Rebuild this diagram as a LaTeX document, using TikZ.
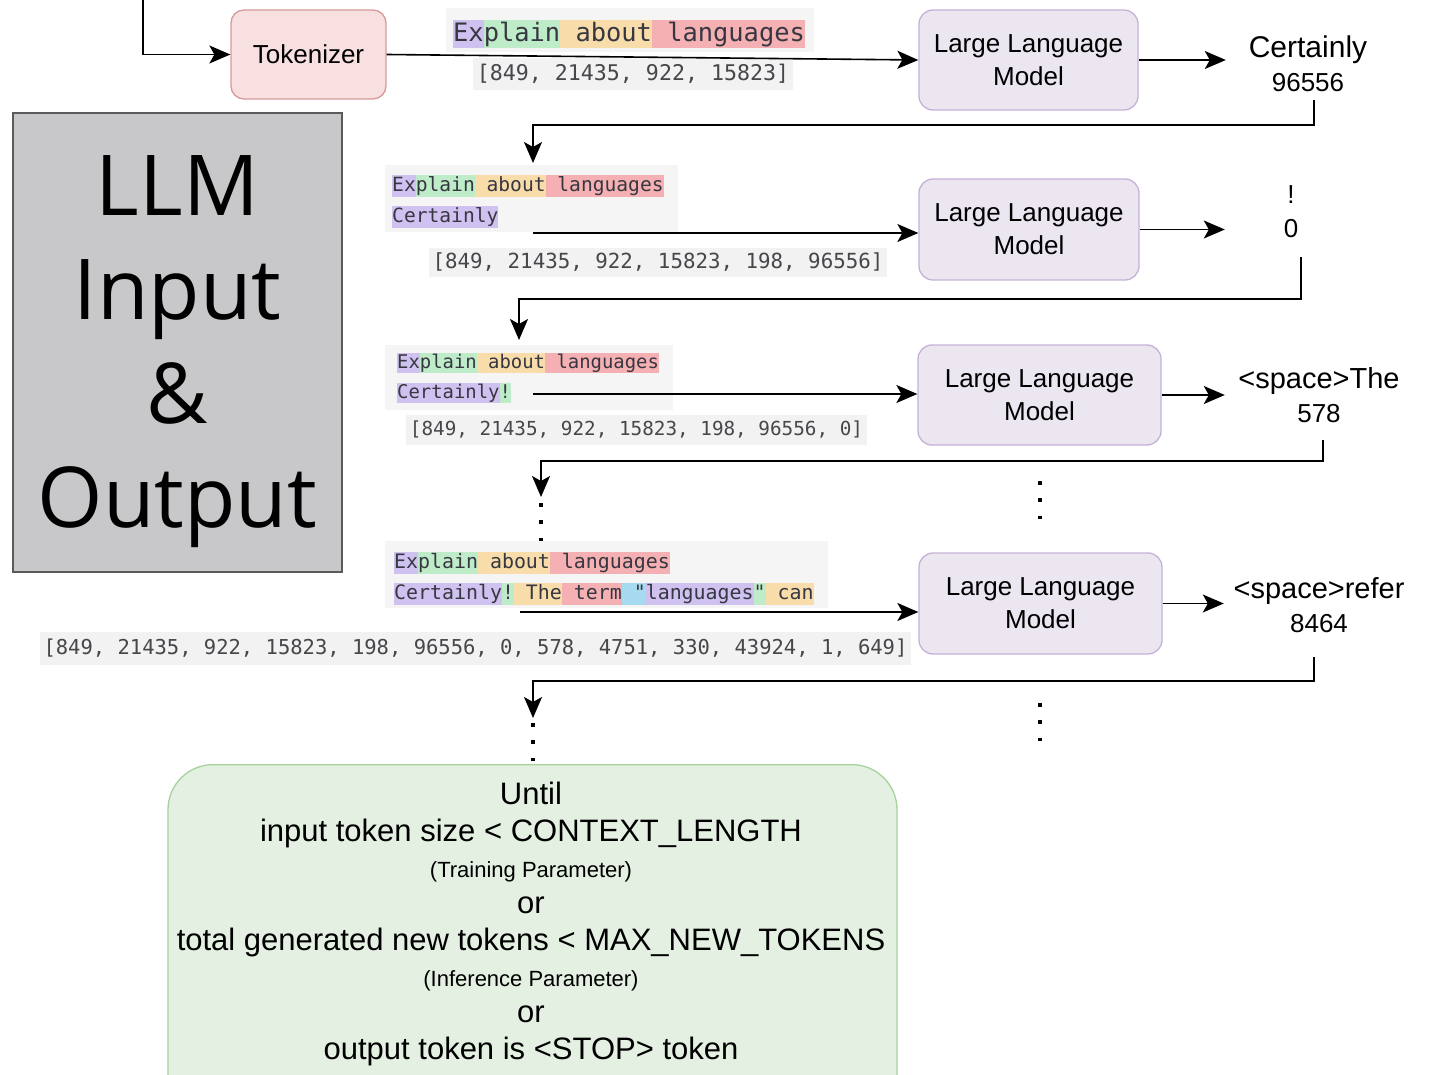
\documentclass[tikz,border=0pt]{standalone}
\usepackage{fontspec}
\setmainfont{Liberation Sans}
\setmonofont{DejaVu Sans Mono}
\newfontfamily\titlefont{Open Sans}
\usetikzlibrary{arrows.meta}
\definecolor{tkpurple}{RGB}{208,194,240}
\definecolor{tkgreen}{RGB}{190,236,200}
\definecolor{tkorange}{RGB}{248,220,170}
\definecolor{tkred}{RGB}{244,176,178}
\definecolor{tkblue}{RGB}{165,218,240}
\definecolor{tkbg}{RGB}{245,245,245}
\definecolor{numbg}{RGB}{242,242,242}
\definecolor{tktext}{RGB}{55,55,65}
\definecolor{numtext}{RGB}{70,70,75}
\definecolor{tokfill}{RGB}{248,224,224}
\definecolor{tokdraw}{RGB}{214,154,154}
\definecolor{llmfill}{RGB}{236,230,240}
\definecolor{llmdraw}{RGB}{196,178,214}
\definecolor{stopfill}{RGB}{228,240,226}
\definecolor{stopdraw}{RGB}{166,210,156}
\definecolor{titlefill}{RGB}{200,199,201}
\definecolor{titledraw}{RGB}{90,90,90}
\newcommand\tk[2]{{\setlength{\fboxsep}{0pt}\colorbox{#1}{\vrule height 0.84em depth 0.26em width 0pt\relax #2}}}
\tikzset{
  conn/.style={line width=1.6pt, draw=black},
  arr/.style={conn, -{Stealth[length=21pt,width=18pt,inset=5pt]}},
  dotline/.style={line width=3.6pt, dash pattern=on 3.6pt off 13.8pt},
  tokbox/.style={draw=tokdraw, fill=tokfill, line width=1.3pt, rounded corners=13pt, font=\fontsize{26}{31}\selectfont},
  llm/.style={draw=llmdraw, fill=llmfill, line width=1.3pt, rounded corners=14pt, align=center, font=\fontsize{26}{33}\selectfont},
  outlbl/.style={inner sep=0pt, align=center, font=\fontsize{26}{34}\selectfont},
  toks/.style={inner sep=0pt, anchor=west, align=left, text=tktext},
  nums/.style={fill=numbg, inner xsep=4pt, inner ysep=0pt, text=numtext}
}
\begin{document}
\begin{tikzpicture}[x=1pt,y=-1pt]
\useasboundingbox (0,0) rectangle (1437,1075);

% title
\node[draw=titledraw, fill=titlefill, line width=1.2pt, minimum width=329pt, minimum height=459pt] (title) at (177.5,342.5) {};
\node[align=center, inner sep=0pt, font=\titlefont\fontsize{84}{104}\selectfont] (titletext) at (177.5,352) {LLM\\Input\\\&\\Output};

% row 1
\coordinate (in) at (143,0);
\node[tokbox, minimum width=155pt, minimum height=89pt] (tok) at (308.5,54.5) {Tokenizer};
\fill[tkbg] (446,8) rectangle (814,52);
\node[toks, font=\ttfamily\fontsize{25.4}{30}\selectfont] (t1) at (453,34) {\tk{tkpurple}{Ex}\tk{tkgreen}{plain}\tk{tkorange}{\ about}\tk{tkred}{\ languages}};
\node[nums, minimum height=32pt, font=\ttfamily\fontsize{21.6}{26}\selectfont] (n1) at (633,74) {[849, 21435, 922, 15823]};
\node[llm, minimum width=219pt, minimum height=100pt] (m1) at (1028.5,60) {Large Language\\Model};
\node[outlbl, minimum width=164pt, minimum height=72pt] (o1) at (1308,64) {{\fontsize{30}{34}\selectfont Certainly}\\96556};
\draw[arr] (in) |- (tok.west);
\draw[arr] (tok.east) -- (m1.west);
\draw[arr] (m1.east) -- (m1.east -| o1.west);
\coordinate (k1) at (533,125);
\draw[arr] ([xshift=6pt]o1.south) |- (k1) -- ++(0,38);

% row 2
\fill[tkbg] (385,165) rectangle (678,232);
\node[toks, font=\ttfamily\fontsize{19.6}{31}\selectfont] (t2) at (392,201.5) {\tk{tkpurple}{Ex}\tk{tkgreen}{plain}\tk{tkorange}{\ about}\tk{tkred}{\ languages}\\\tk{tkpurple}{Certainly}};
\coordinate (a2) at (533,233);
\node[nums, minimum height=29pt, font=\ttfamily\fontsize{20.8}{25}\selectfont] (n2) at (658,262.5) {[849, 21435, 922, 15823, 198, 96556]};
\node[llm, minimum width=220pt, minimum height=101pt] (m2) at (1029,229.5) {Large Language\\Model};
\node[outlbl, minimum width=132pt, minimum height=90pt] (o2) at (1291,212) {!\\0};
\draw[arr] (a2) -- (a2 -| m2.west);
\draw[arr] (m2.east) -- (m2.east -| o2.west);
\coordinate (k2) at (519,299);
\draw[arr] ([xshift=10pt]o2.south) |- (k2) -- ++(0,41);

% row 3
\fill[tkbg] (385,345) rectangle (673,410);
\node[toks, font=\ttfamily\fontsize{18.9}{30}\selectfont] (t3) at (397,378) {\tk{tkpurple}{Ex}\tk{tkgreen}{plain}\tk{tkorange}{\ about}\tk{tkred}{\ languages}\\\tk{tkpurple}{Certainly}\tk{tkgreen}{!}};
\coordinate (a3) at (533,394);
\node[nums, minimum height=30pt, font=\ttfamily\fontsize{19.3}{24}\selectfont] (n3) at (636.5,430) {[849, 21435, 922, 15823, 198, 96556, 0]};
\node[llm, minimum width=243pt, minimum height=100pt] (m3) at (1039.5,395) {Large Language\\Model};
\node[outlbl, minimum width=188pt, minimum height=89pt] (o3) at (1319,395.5) {{\fontsize{29}{33}\selectfont <space>The}\\578};
\draw[arr] (a3) -- (a3 -| m3.west);
\draw[arr] (m3.east) -- (m3.east -| o3.west);
\coordinate (k3) at (541,461);
\draw[arr] ([xshift=4pt]o3.south) |- (k3) -- ++(0,36);
\draw[dotline] (541,503) -- (541,541);
\draw[dotline] (1040,481) -- (1040,520);

% row 4
\fill[tkbg] (385,541) rectangle (828,608);
\node[toks, font=\ttfamily\fontsize{19.9}{31}\selectfont] (t4) at (394,578.5) {\tk{tkpurple}{Ex}\tk{tkgreen}{plain}\tk{tkorange}{\ about}\tk{tkred}{\ languages}\\\tk{tkpurple}{Certainly}\tk{tkgreen}{!}\tk{tkorange}{\ The}\tk{tkred}{\ term}\tk{tkblue}{\ "}\tk{tkpurple}{languages}\tk{tkgreen}{"}\tk{tkorange}{\ can}};
\coordinate (a4) at (520,612);
\node[nums, minimum height=33pt, font=\ttfamily\fontsize{20.5}{25}\selectfont] (n4) at (475.5,648.5) {[849, 21435, 922, 15823, 198, 96556, 0, 578, 4751, 330, 43924, 1, 649]};
\node[llm, minimum width=243pt, minimum height=101pt] (m4) at (1040.5,603.5) {Large Language\\Model};
\node[outlbl, minimum width=190pt, minimum height=103pt] (o4) at (1319,605.5) {{\fontsize{29}{33}\selectfont <space>refer}\\8464};
\draw[arr] (a4) -- (a4 -| m4.west);
\draw[arr] (m4.east) -- (m4.east -| o4.west);
\coordinate (k4) at (533,681);
\draw[arr] ([xshift=-5pt]o4.south) |- (k4) -- ++(0,37);
\draw[dotline] (533,723) -- (533,764);
\draw[dotline] (1040,703) -- (1040,742);

% stop condition
\begin{scope}
\clip (0,0) rectangle (1437,1075);
\node[draw=stopdraw, fill=stopfill, line width=1.3pt, rounded corners=45pt, minimum width=729pt, minimum height=380pt, anchor=north] (stop) at (532.5,764) {};
\end{scope}
\node[align=center, inner sep=0pt, font=\fontsize{31}{36.3}\selectfont] (stoptext) at (531,924) {Until\\input token size < CONTEXT\_LENGTH\\{\fontsize{22}{36.3}\selectfont (Training Parameter)}\\or\\total generated new tokens < MAX\_NEW\_TOKENS\\{\fontsize{22}{36.3}\selectfont (Inference Parameter)}\\or\\output token is <STOP> token};
\end{tikzpicture}
\end{document}
